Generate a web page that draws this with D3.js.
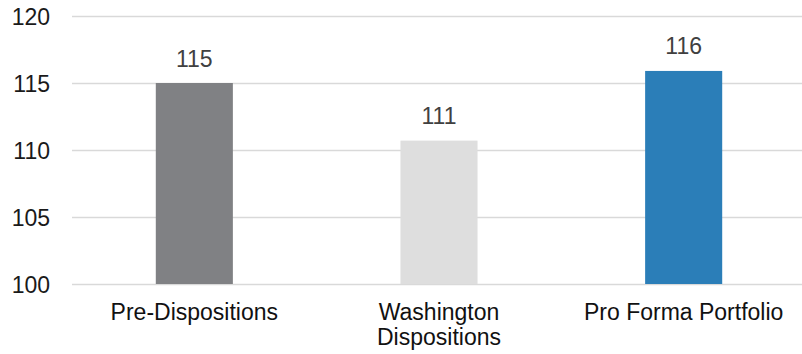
<!DOCTYPE html>
<html>
<head>
<meta charset="utf-8">
<script src="https://cdn.jsdelivr.net/npm/d3@7"></script>
<style>
  html, body { margin: 0; padding: 0; background: #fff; }
  svg { display: block; font-family: "Liberation Sans", Arial, sans-serif; }
</style>
</head>
<body>
<script>
// Chart data
const categories = ["Pre-Dispositions", "Washington Dispositions", "Pro Forma Portfolio"];
const categoryLines = [["Pre-Dispositions"], ["Washington", "Dispositions"], ["Pro Forma Portfolio"]];
const values = [115.0, 110.7, 115.9];
const valueLabels = ["115", "111", "116"];
const barColors = ["#808184", "#dedede", "#2b7eb8"];
const yTicks = [100, 105, 110, 115, 120];

const width = 802, height = 354;
const margin = { top: 16, right: -4, bottom: 70, left: 72 };
const fontSize = 23;

const svg = d3.select("body").append("svg")
  .attr("width", width)
  .attr("height", height);

const x = d3.scaleBand()
  .domain(categories)
  .range([margin.left, width - margin.right])
  .paddingInner(0.685)
  .paddingOuter(0.3425);

const y = d3.scaleLinear()
  .domain([100, 120])
  .range([height - margin.bottom, margin.top]);

// Horizontal gridlines
svg.append("g")
  .selectAll("line")
  .data(yTicks)
  .join("line")
  .attr("x1", margin.left)
  .attr("x2", width)
  .attr("y1", d => Math.round(y(d)) + 0.5)
  .attr("y2", d => Math.round(y(d)) + 0.5)
  .attr("stroke", "#d9d9d9")
  .attr("stroke-width", 1.5);

// Y axis labels
const yAxis = d3.axisLeft(y).tickValues(yTicks).tickSize(0).tickPadding(0);
const gy = svg.append("g")
  .attr("transform", `translate(50,0)`)
  .call(yAxis);
gy.select(".domain").remove();
gy.selectAll("text")
  .attr("font-size", fontSize)
  .attr("dy", "0.36em")
  .attr("font-family", "'Liberation Sans', Arial, sans-serif")
  .attr("fill", "#1a1a1a");

// Bars
svg.append("g")
  .selectAll("rect")
  .data(categories)
  .join("rect")
  .attr("x", d => x(d))
  .attr("width", x.bandwidth())
  .attr("y", (d, i) => y(values[i]))
  .attr("height", (d, i) => y(100) - y(values[i]))
  .attr("fill", (d, i) => barColors[i]);

// Value labels
svg.append("g")
  .selectAll("text")
  .data(categories)
  .join("text")
  .attr("x", d => x(d) + x.bandwidth() / 2)
  .attr("y", (d, i) => y(values[i]) - 16.5)
  .attr("text-anchor", "middle")
  .attr("font-size", fontSize)
  .attr("fill", "#404040")
  .text((d, i) => valueLabels[i]);

// Category labels
const cat = svg.append("g")
  .selectAll("text")
  .data(categories)
  .join("text")
  .attr("x", d => x(d) + x.bandwidth() / 2)
  .attr("y", 320)
  .attr("text-anchor", "middle")
  .attr("font-size", fontSize)
  .attr("fill", "#111");
cat.each(function(d, i) {
  d3.select(this).selectAll("tspan")
    .data(categoryLines[i])
    .join("tspan")
    .attr("x", x(d) + x.bandwidth() / 2)
    .attr("dy", (t, j) => j === 0 ? 0 : 25)
    .text(t => t);
});
</script>
</body>
</html>
